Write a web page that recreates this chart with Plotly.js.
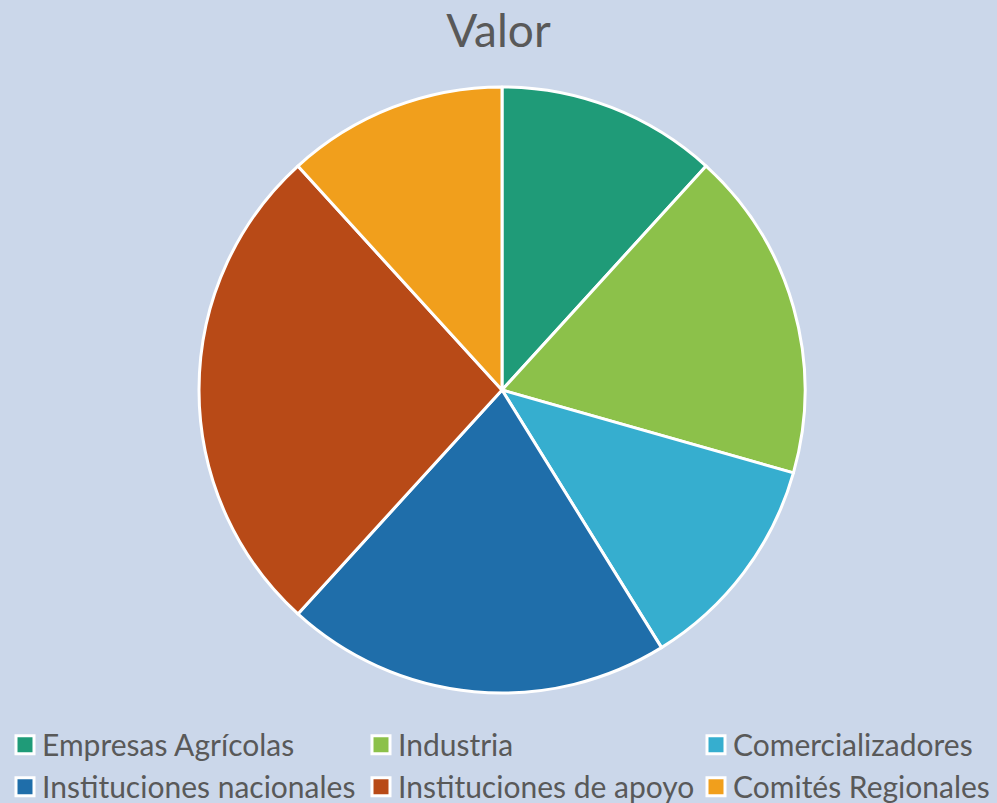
<!DOCTYPE html>
<html><head><meta charset="utf-8">
<script src="https://cdn.plot.ly/plotly-3.0.1.min.js"></script>
<style>html,body{margin:0;padding:0;background:#cbd7ea;}#chart{width:997px;height:803px;}</style>
</head><body><div id="chart"></div>
<script>
const categories = ["Empresas Agrícolas","Industria","Comercializadores","Instituciones nacionales","Instituciones de apoyo","Comités Regionales"];
const values = [4, 6, 4, 7, 9, 4];
const colors = ["#1f9b78","#8cc14a","#36aecf","#1f6eaa","#b84a17","#f19f1c"];

const data = [{
  type: "pie",
  labels: categories,
  values: values,
  sort: false,
  direction: "clockwise",
  rotation: 0,
  textinfo: "none",
  hoverinfo: "label+value",
  marker: {colors: colors, line: {color: "#ffffff", width: 3}},
  domain: {x: [198/997, 806/997], y: [1 - 693/803, 1 - 87/803]}
}];

const layout = {
  width: 997, height: 803,
  margin: {l: 0, r: 0, t: 0, b: 0, autoexpand: false},
  paper_bgcolor: "#cbd7ea",
  plot_bgcolor: "#cbd7ea",
  font: {family: "Lato, Carlito, sans-serif", color: "#595959"},
  title: {text: "Valor", font: {size: 46, color: "#595959", family: "Lato, sans-serif"}, x: 0.5, xanchor: "center", y: 0.962, yanchor: "middle"},
  showlegend: true,
  legend: {
    orientation: "h",
    xref: "container", yref: "container",
    x: 0.0, xanchor: "left",
    y: 0.105, yanchor: "top",
    traceorder: "normal",
    entrywidth: 280, entrywidthmode: "pixels",
    font: {size: 30, color: "#595959", family: "Lato, sans-serif"},
    tracegroupgap: 0,
    bgcolor: "rgba(0,0,0,0)"
  }
};

// presentational tweak: Excel-like legend squares and column spacing
const colShift = [5, 36, 46];
function fixLegend() {
  const root = document.getElementById("chart");
  root.querySelectorAll(".legendpoints path.legendpie").forEach(p => {
    p.setAttribute("d", "M9,9H-9V-9H9Z");
  });
  root.querySelectorAll(".legend .scrollbox").forEach(s => s.removeAttribute("clip-path"));
  root.querySelectorAll(".legend .traces").forEach((g, i) => {
    const m = /translate\(\s*([-\d.]+)[ ,]+([-\d.]+)\s*\)/.exec(g.getAttribute("transform") || "");
    if (m) {
      const x = parseFloat(m[1]) + colShift[i % 3];
      g.setAttribute("transform", "translate(" + x + "," + m[2] + ")");
    }
    const t = g.querySelector("text.legendtext");
    if (t) t.setAttribute("x", "37");
  });
}
Plotly.newPlot("chart", data, layout, {displayModeBar: false}).then(fixLegend);
</script>
</body></html>
